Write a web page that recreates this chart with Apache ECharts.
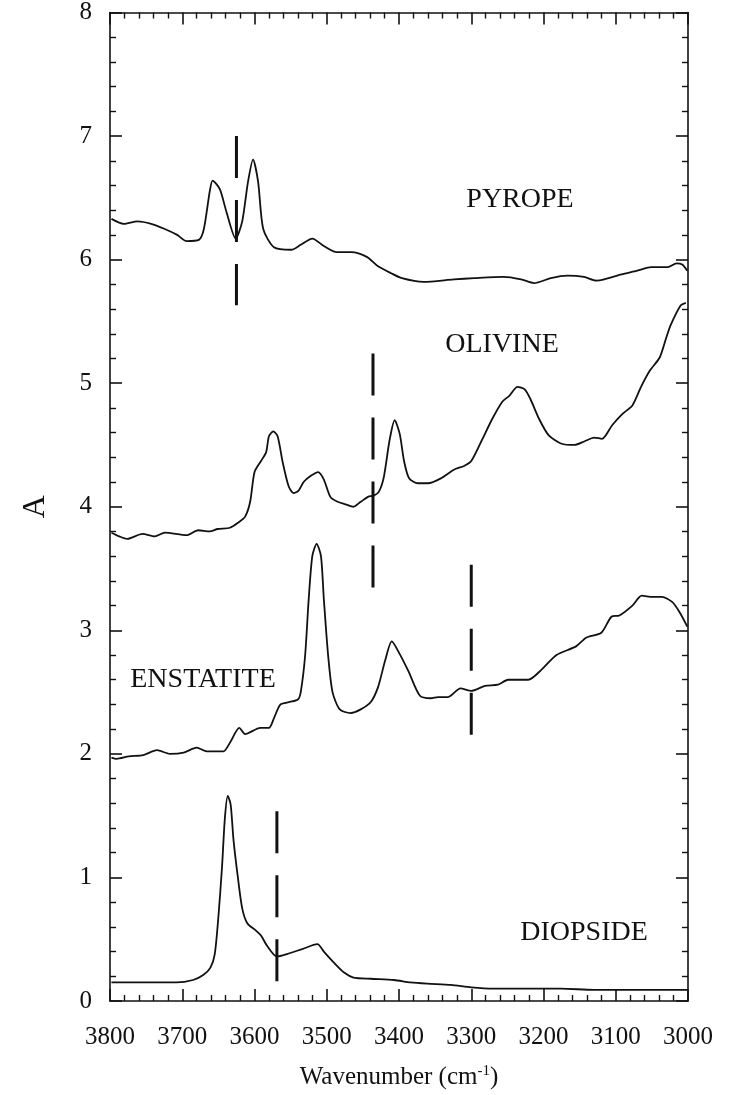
<!DOCTYPE html>
<html lang="en">
<head>
    <meta charset="UTF-8">
    <title>OH spectra</title>
    <script src="https://cdn.jsdelivr.net/npm/echarts@6/dist/echarts.min.js"></script>
    <style>
        html, body { margin: 0; padding: 0; background: #fff; }
        #main { width: 729px; height: 1095px; }
    </style>
</head>
<body>
<div id="main"></div>
<script>
    // spectra: [wavenumber, absorbance]
    var pyrope = [[3798,6.33],[3781,6.29],[3762,6.31],[3743,6.29],[3725,6.25],[3707,6.20],[3694,6.15],[3677,6.16],
        [3670,6.25],[3662,6.55],[3658,6.64],[3648,6.57],[3639,6.39],[3626,6.17],[3617,6.31],[3609,6.63],[3602,6.81],
        [3595,6.63],[3588,6.25],[3573,6.10],[3549,6.08],[3536,6.12],[3520,6.17],[3504,6.11],[3486,6.06],[3466,6.06],
        [3444,6.02],[3430,5.95],[3411,5.89],[3396,5.85],[3366,5.82],[3324,5.84],[3296,5.85],[3255,5.86],[3231,5.84],
        [3213,5.81],[3190,5.85],[3167,5.87],[3144,5.86],[3127,5.83],[3116,5.84],[3092,5.88],[3070,5.91],[3051,5.94],
        [3028,5.94],[3016,5.97],[3008,5.96],[3001,5.91]];

    var olivine = [[3798,3.79],[3787,3.76],[3776,3.74],[3755,3.78],[3738,3.76],[3724,3.79],[3694,3.77],[3678,3.81],
        [3662,3.80],[3651,3.82],[3634,3.83],[3623,3.87],[3613,3.92],[3606,4.04],[3600,4.28],[3591,4.37],[3584,4.44],
        [3580,4.57],[3574,4.61],[3568,4.57],[3561,4.36],[3553,4.17],[3546,4.11],[3539,4.13],[3532,4.20],[3522,4.25],
        [3512,4.28],[3504,4.22],[3495,4.08],[3485,4.04],[3474,4.02],[3463,4.00],[3453,4.04],[3443,4.08],[3435,4.09],
        [3428,4.12],[3421,4.24],[3413,4.54],[3406,4.70],[3399,4.59],[3393,4.37],[3386,4.23],[3374,4.19],[3360,4.19],
        [3342,4.23],[3324,4.30],[3310,4.33],[3300,4.37],[3286,4.53],[3271,4.71],[3257,4.85],[3247,4.90],[3236,4.97],
        [3226,4.95],[3218,4.87],[3206,4.71],[3193,4.58],[3175,4.51],[3157,4.50],[3143,4.53],[3130,4.56],[3119,4.55],
        [3105,4.66],[3091,4.75],[3077,4.82],[3065,4.97],[3053,5.10],[3039,5.21],[3030,5.37],[3024,5.47],[3010,5.63],
        [3003,5.65]];

    var enstatite = [[3798,1.97],[3791,1.96],[3774,1.98],[3754,1.99],[3735,2.03],[3717,2.00],[3698,2.01],[3680,2.05],
        [3666,2.02],[3643,2.02],[3634,2.09],[3621,2.21],[3613,2.16],[3592,2.21],[3580,2.21],[3573,2.29],[3564,2.40],
        [3551,2.42],[3540,2.44],[3536,2.50],[3530,2.79],[3525,3.25],[3520,3.60],[3514,3.70],[3508,3.60],[3504,3.25],
        [3498,2.79],[3492,2.50],[3482,2.36],[3467,2.33],[3453,2.36],[3439,2.42],[3429,2.54],[3419,2.76],[3410,2.91],
        [3401,2.83],[3387,2.67],[3371,2.47],[3356,2.45],[3346,2.46],[3332,2.46],[3315,2.53],[3300,2.51],[3281,2.55],
        [3263,2.56],[3249,2.60],[3221,2.60],[3203,2.68],[3182,2.80],[3155,2.87],[3141,2.94],[3120,2.98],[3106,3.11],
        [3095,3.12],[3077,3.20],[3064,3.28],[3049,3.27],[3036,3.27],[3022,3.23],[3012,3.15],[3001,3.03]];

    var diopside = [[3798,0.15],[3754,0.15],[3708,0.15],[3685,0.17],[3671,0.21],[3661,0.27],[3655,0.38],[3650,0.68],
        [3645,1.08],[3641,1.48],[3637,1.66],[3633,1.59],[3629,1.30],[3623,1.00],[3617,0.75],[3610,0.63],[3598,0.57],
        [3591,0.53],[3583,0.45],[3569,0.36],[3555,0.38],[3534,0.42],[3513,0.46],[3504,0.40],[3490,0.31],[3476,0.23],
        [3463,0.19],[3439,0.18],[3407,0.17],[3384,0.15],[3361,0.14],[3328,0.13],[3300,0.11],[3269,0.10],[3223,0.10],
        [3176,0.10],[3130,0.09],[3084,0.09],[3037,0.09],[3001,0.09]];

    // dashed guide lines: [wavenumber, top A, bottom A]
    var guides = [[3625, 7.00, 5.63], [3436, 5.24, 3.34], [3300, 3.53, 2.15], [3569, 1.535, 0.145]];

    var xTicks = [3800, 3700, 3600, 3500, 3400, 3300, 3200, 3100, 3000];
    var yTicks = [0, 1, 2, 3, 4, 5, 6, 7, 8];

    var serif = "'Liberation Serif', 'Times New Roman', serif";
    var black = '#111';

    var myChart = echarts.init(document.getElementById('main'));

    function xAxisOf(pos, labels) {
        return {
            type: 'value', position: pos, inverse: true,
            min: xTicks[xTicks.length - 1], max: xTicks[0], interval: 100,
            axisLine: { show: true, onZero: false, lineStyle: { color: black, width: 1.6 } },
            axisTick: { show: true, inside: true, length: 12, lineStyle: { color: black, width: 1.6 } },
            minorTick: { show: true, splitNumber: 5, length: 6, lineStyle: { color: black, width: 1.4 } },
            splitLine: { show: false },
            axisLabel: {
                show: labels, color: black, fontFamily: serif, fontSize: 25, margin: 24,
                formatter: function (v) { return String(v); }
            },
            name: labels ? 'Wavenumber (cm{sup|-1})' : '',
            nameLocation: 'middle', nameGap: 63,
            nameTextStyle: {
                color: black, fontFamily: serif, fontSize: 25,
                rich: { sup: { fontFamily: serif, fontSize: 15, color: black, verticalAlign: 'top', padding: [0, 0, 12, 0] } }
            }
        };
    }

    function yAxisOf(pos, labels) {
        return {
            type: 'value', position: pos,
            min: yTicks[0], max: yTicks[yTicks.length - 1], interval: 1,
            axisLine: { show: true, onZero: false, lineStyle: { color: black, width: 1.6 } },
            axisTick: { show: true, inside: true, length: 12, lineStyle: { color: black, width: 1.6 } },
            minorTick: { show: true, splitNumber: 5, length: 6, lineStyle: { color: black, width: 1.4 } },
            splitLine: { show: false },
            axisLabel: { show: labels, color: black, fontFamily: serif, fontSize: 25, margin: 18 },
            name: labels ? 'A' : '',
            nameLocation: 'middle', nameGap: 58,
            nameTextStyle: { color: black, fontFamily: serif, fontSize: 32 }
        };
    }

    function spectrum(name, data) {
        return {
            name: name, type: 'line', data: data, showSymbol: false, smooth: 0.25,
            lineStyle: { color: black, width: 1.8 }, silent: true, z: 3
        };
    }

    var series = [
        spectrum('PYROPE', pyrope),
        spectrum('OLIVINE', olivine),
        spectrum('ENSTATITE', enstatite),
        spectrum('DIOPSIDE', diopside)
    ];
    guides.forEach(function (g) {
        series.push({
            type: 'line', data: [[g[0], g[1]], [g[0], g[2]]], showSymbol: false, silent: true,
            lineStyle: { color: black, width: 3, type: [42, 22] }, z: 4
        });
    });

    function tag(text, x, y) {
        return {
            type: 'text', x: x, y: y,
            style: { text: text, fill: black, font: '28px ' + serif, textAlign: 'center', textVerticalAlign: 'middle' }
        };
    }

    var option = {
        backgroundColor: '#fff',
        animation: false,
        grid: { left: 110, right: 41, top: 11, bottom: 94 },
        xAxis: [xAxisOf('bottom', true), xAxisOf('top', false)],
        yAxis: [yAxisOf('left', true), yAxisOf('right', false)],
        graphic: [
            tag('PYROPE', 520, 200),
            tag('OLIVINE', 502, 345),
            tag('ENSTATITE', 203, 680),
            tag('DIOPSIDE', 584, 933)
        ],
        series: series
    };

    myChart.setOption(option);
</script>
</body>
</html>
